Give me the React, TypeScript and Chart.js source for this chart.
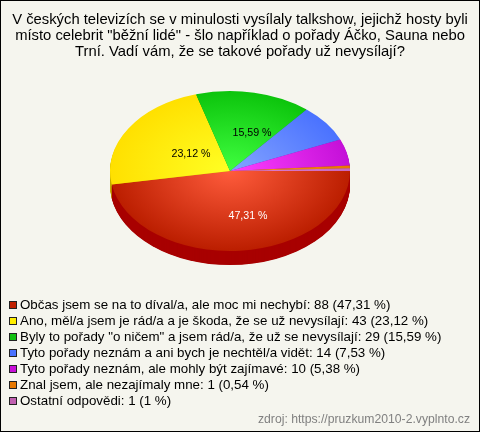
import React, { useEffect, useRef } from "react";
import { Chart, registerables } from "chart.js";

Chart.register(...registerables);

const titleLines = [
  "V českých televizích se v minulosti vysílaly talkshow, jejichž hosty byli",
  'místo celebrit "běžní lidé" - šlo například o pořady Áčko, Sauna nebo',
  "Trní. Vadí vám, že se takové pořady už nevysílají?",
];
const categories = [
  "Občas jsem se na to díval/a, ale moc mi nechybí",
  "Ano, měl/a jsem je rád/a a je škoda, že se už nevysílají",
  'Byly to pořady "o ničem" a jsem rád/a, že už se nevysílají',
  "Tyto pořady neznám a ani bych je nechtěl/a vidět",
  "Tyto pořady neznám, ale mohly být zajímavé",
  "Znal jsem, ale nezajímaly mne",
  "Ostatní odpovědi",
];
const counts = [88, 43, 29, 14, 10, 1, 1];
const percents = ["47,31", "23,12", "15,59", "7,53", "5,38", "0,54", "1"];
const edgeColors = ["#bb1e00", "#ffe000", "#0cc40c", "#4a72ff", "#c410d8", "#e87800", "#c868c0"];
const centerColors = ["#ff5c3c", "#ffff24", "#40ff40", "#84a4ff", "#ff40ff", "#ff9420", "#e080d0"];
const sideColors = ["#a80000", "#c4ac00", "#089008", "#3050c0", "#9000a0", "#b05000", "#905080"];
const swatchColors = ["#c02000", "#ffee00", "#10c010", "#4a72ff", "#c810d8", "#e87800", "#c060b0"];

const BG = "#f5f5ee";
const PIE_CX = 230;
const PIE_CY = 171;
const SQUASH = 2 / 3;
const DEPTH = 14;
const LABEL_OFFSETS: Record<number, [number, number]> = { 0: [18, 45], 1: [-39, -17], 2: [22, -38] };

const piePlugin = {
  id: "pie3d",
  beforeDraw(chart: any) {
    const { ctx, width, height } = chart;
    ctx.save();
    ctx.fillStyle = BG;
    ctx.fillRect(0, 0, width, height);
    ctx.strokeStyle = "#000";
    ctx.lineWidth = 1;
    ctx.strokeRect(0.5, 0.5, width - 1, height - 1);
    ctx.restore();
  },
  beforeDatasetsDraw(chart: any) {
    const { ctx } = chart;
    const arcs = chart.getDatasetMeta(0).data;
    const cx = arcs[0].x;
    const cy = arcs[0].y;
    ctx.save();
    ctx.translate(PIE_CX, PIE_CY);
    ctx.scale(1, SQUASH);
    ctx.translate(-cx, -cy);
    for (let d = DEPTH; d >= 1; d -= 0.5) {
      arcs.forEach((a: any, i: number) => {
        ctx.beginPath();
        ctx.moveTo(a.x, a.y + d / SQUASH);
        ctx.arc(a.x, a.y + d / SQUASH, a.outerRadius, a.startAngle, a.endAngle);
        ctx.closePath();
        ctx.fillStyle = sideColors[i];
        ctx.fill();
      });
    }
  },
  afterDatasetsDraw(chart: any) {
    const { ctx, width } = chart;
    ctx.restore();

    ctx.save();
    ctx.font = "10.67px 'Liberation Sans', Arial, sans-serif";
    ctx.textAlign = "center";
    ctx.textBaseline = "middle";
    Object.keys(LABEL_OFFSETS).forEach((k) => {
      const i = Number(k);
      const [dx, dy] = LABEL_OFFSETS[i];
      ctx.fillStyle = i === 0 ? "#ffffff" : "#000000";
      ctx.fillText(`${percents[i]} %`, PIE_CX + dx, PIE_CY + dy);
    });

    ctx.font = "13.33px 'Liberation Sans', Arial, sans-serif";
    ctx.textAlign = "left";
    categories.forEach((c, i) => {
      const y = 305 + i * 16;
      ctx.fillStyle = swatchColors[i];
      ctx.fillRect(9.5, y - 3.5, 7, 7);
      ctx.strokeStyle = "#222";
      ctx.lineWidth = 1;
      ctx.strokeRect(9.5, y - 3.5, 7, 7);
      ctx.fillStyle = "#000";
      ctx.fillText(`${c}: ${counts[i]} (${percents[i]} %)`, 20, y);
    });

    ctx.font = "12.2px 'Liberation Sans', Arial, sans-serif";
    ctx.textAlign = "right";
    ctx.fillStyle = "#808080";
    ctx.fillText("zdroj: https://pruzkum2010-2.vyplnto.cz", width - 10, 420);
    ctx.restore();
  },
};

export default function App() {
  const ref = useRef<HTMLCanvasElement>(null);
  useEffect(() => {
    document.body.style.margin = "0";
    const chart = new Chart(ref.current!, {
      type: "pie",
      data: {
        labels: categories,
        datasets: [
          {
            data: counts,
            clip: false,
            borderWidth: 0,
            backgroundColor: (c: any) => {
              const { chartArea, ctx } = c.chart;
              if (!chartArea) return edgeColors[c.dataIndex];
              const x = (chartArea.left + chartArea.right) / 2;
              const y = (chartArea.top + chartArea.bottom) / 2;
              const g = ctx.createRadialGradient(x, y, 0, x, y, 120);
              g.addColorStop(0, centerColors[c.dataIndex]);
              g.addColorStop(1, edgeColors[c.dataIndex]);
              return g;
            },
          } as any,
        ],
      },
      options: {
        responsive: false,
        animation: false,
        rotation: 90,
        layout: { padding: { left: 0, right: 0, top: 0, bottom: 132 } },
        plugins: {
          legend: { display: false },
          tooltip: { enabled: false },
          title: {
            display: true,
            text: titleLines,
            color: "#000",
            font: { family: "'Liberation Sans', Arial, sans-serif", size: 14.8, weight: "normal", lineHeight: 16 / 14.8 },
            padding: { top: 12, bottom: 0 },
          },
        },
      },
      plugins: [piePlugin],
    } as any);
    return () => chart.destroy();
  }, []);
  return <canvas ref={ref} width={480} height={432} style={{ display: "block" }} />;
}
